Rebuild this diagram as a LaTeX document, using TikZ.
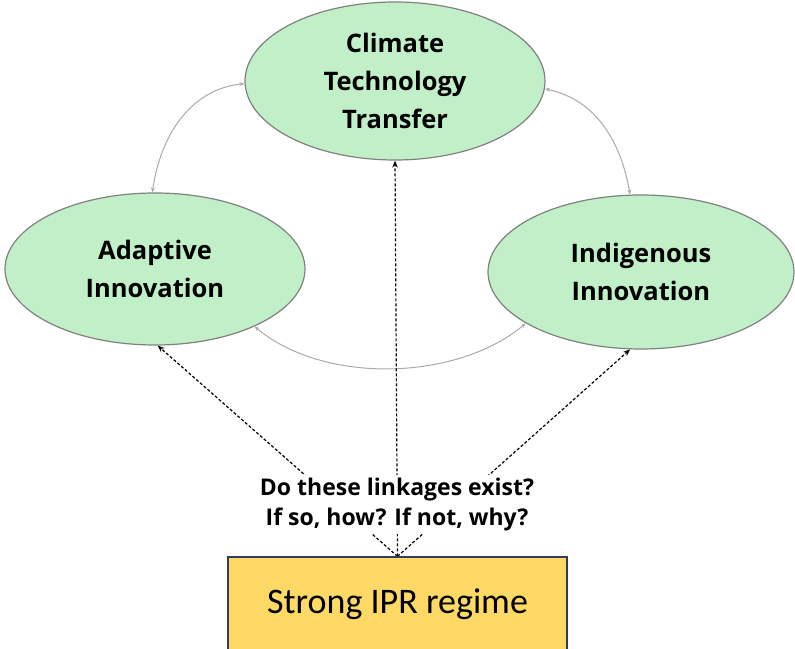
\documentclass[tikz,border=0pt]{standalone}
\usepackage{fontspec}
\setmainfont{Open Sans}
\newfontfamily\carlito{Carlito}
\usetikzlibrary{shapes.geometric,arrows.meta,backgrounds}
\definecolor{ellfill}{RGB}{193,240,200}
\definecolor{ellline}{RGB}{128,128,128}
\definecolor{linkgray}{RGB}{170,170,170}
\definecolor{boxfill}{RGB}{255,217,102}
\definecolor{boxline}{RGB}{50,60,85}
\tikzset{
  ell/.style={ellipse, draw=ellline, line width=1.2pt, fill=ellfill, inner sep=0pt,
    align=center, font=\fontsize{25.5}{38}\selectfont\bfseries},
  iprbox/.style={rectangle, draw=boxline, line width=1.3pt, fill=boxfill,
    minimum width=339pt, minimum height=94pt, inner sep=0pt,
    font=\carlito\fontsize{36}{40}\selectfont},
  question/.style={fill=white, align=center, inner sep=3pt,
    font=\fontsize{23}{30}\selectfont\bfseries},
  graylink/.style={draw=linkgray, line width=1pt,
    {Stealth[length=5pt,width=4pt]}-{Stealth[length=5pt,width=4pt]}},
  dashlink/.style={draw=black, line width=1.2pt, dash pattern=on 3pt off 2pt,
    -{Stealth[length=7pt,width=5.5pt]}}
}
\begin{document}
\begin{tikzpicture}[x=1pt,y=1pt]
\useasboundingbox (0,0) rectangle (795,648);
\node[ell, minimum width=300pt, minimum height=158pt] (T) at (395,567) {Climate\\Technology\\Transfer};
\node[ell, minimum width=300pt, minimum height=152pt] (L) at (155,379) {Adaptive\\Innovation};
\node[ell, minimum width=306pt, minimum height=154pt] (R) at (641,376) {Indigenous\\Innovation};
\node[iprbox] (B) at (397.5,44) {Strong IPR regime};
\node[question] (Q) at (397,143) {Do these linkages exist?\\If so, how? If not, why?};
\begin{pgfonlayer}{background}
\draw[graylink] (L.92) to[out=82,in=186] (T.181);
\draw[graylink] (T.-3) to[out=-12,in=100] (R.98);
\draw[graylink] (L.-30) to[out=-40,in=-140,looseness=0.85] (R.204);
\draw[dashlink] (B.north) -- (L.-88);
\draw[dashlink] (B.north) -- (T.south);
\draw[dashlink] (B.north) -- (R.-98);
\end{pgfonlayer}
\end{tikzpicture}
\end{document}
